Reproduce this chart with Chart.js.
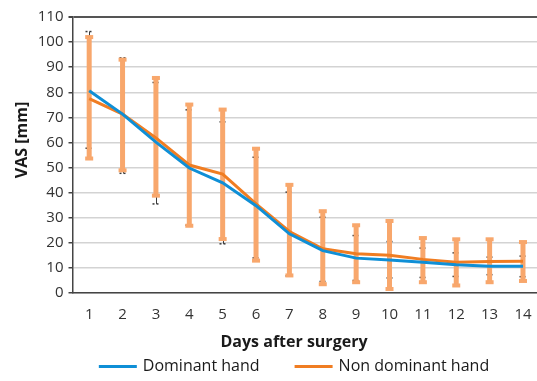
<!DOCTYPE html>
<html>
<head>
<meta charset="utf-8">
<script src="https://cdn.jsdelivr.net/npm/chart.js@4"></script>
<style>
  html, body { margin: 0; padding: 0; background: #fff; }
  #wrap { width: 537px; height: 381px; }
</style>
</head>
<body>
<div id="wrap"><canvas id="vasChart" width="537" height="381"></canvas></div>
<script>
const days = [1, 2, 3, 4, 5, 6, 7, 8, 9, 10, 11, 12, 13, 14];
const yTicks = [0, 10, 20, 30, 40, 50, 60, 70, 80, 90, 100, 110];

const dominant = [80.6, 71.3, 60.1, 49.8, 43.9, 34.8, 23.6, 16.9, 13.9, 13.2, 12.3, 11.3, 10.7, 10.7];
const dominantLow = [57.7, 47.7, 35.5, 27.0, 19.6, 14.0, 6.8, 4.6, 5.0, 6.0, 6.2, 6.6, 7.3, 6.5];
const dominantHigh = [104.2, 93.7, 83.9, 73.0, 68.2, 54.1, 40.2, 30.2, 22.9, 20.5, 17.9, 16.0, 14.3, 14.7];

const nonDominant = [77.5, 71.3, 61.8, 51.0, 47.4, 35.5, 24.5, 17.6, 15.6, 15.0, 13.4, 12.3, 12.6, 12.7];
const nonDominantLow = [53.4, 48.7, 38.6, 26.6, 21.3, 12.7, 6.8, 3.3, 4.1, 1.4, 4.1, 2.8, 4.1, 4.6];
const nonDominantHigh = [102.2, 93.2, 85.9, 75.3, 73.3, 57.7, 43.3, 32.8, 27.2, 28.9, 22.1, 21.6, 21.6, 20.5];

const BLUE = '#0f8fd6';
const ORANGE = '#f07d22';
const LIGHT_ORANGE = '#f8a76c';
const FONT = '"Open Sans", "DejaVu Sans", sans-serif';

// error bars, drawn through the chart scales
const errorBars = {
  id: 'errorBars',
  beforeDatasetsDraw(chart) {
    const { ctx, scales: { x, y } } = chart;
    ctx.save();
    // dominant hand: thin dark bars
    ctx.strokeStyle = '#3a3a3a';
    days.forEach((d, i) => {
      const px = Math.round(x.getPixelForValue(d)) + 0.5;
      const top = y.getPixelForValue(dominantHigh[i]);
      const bot = y.getPixelForValue(dominantLow[i]);
      ctx.setLineDash([]);
      ctx.lineWidth = 1;
      ctx.beginPath();
      ctx.moveTo(px, top);
      ctx.lineTo(px, bot);
      ctx.stroke();
      ctx.setLineDash([2, 2]);
      ctx.lineWidth = 1.5;
      [top, bot].forEach(v => {
        ctx.beginPath();
        ctx.moveTo(px - 4, v);
        ctx.lineTo(px + 4, v);
        ctx.stroke();
      });
    });
    ctx.setLineDash([]);
    // non dominant hand: thick light orange bars
    ctx.fillStyle = LIGHT_ORANGE;
    days.forEach((d, i) => {
      const px = x.getPixelForValue(d);
      const top = y.getPixelForValue(nonDominantHigh[i]);
      const bot = y.getPixelForValue(nonDominantLow[i]);
      ctx.fillRect(px - 2.5, top, 5, bot - top);
      ctx.fillRect(px - 4, top - 1.5, 8, 4);
      ctx.fillRect(px - 4, bot - 2.5, 8, 4);
    });
    ctx.restore();
  }
};

// axis titles and legend
const labelsPlugin = {
  id: 'labelsPlugin',
  afterDraw(chart) {
    const { ctx } = chart;
    ctx.save();
    ctx.fillStyle = '#1a1a1a';
    ctx.textBaseline = 'middle';
    ctx.textAlign = 'center';
    ctx.font = 'bold 16px ' + FONT;
    ctx.fillText('Days after surgery', 294, 342);
    ctx.save();
    ctx.translate(22, 140);
    ctx.rotate(-Math.PI / 2);
    ctx.fillText('VAS [mm]', 0, 0);
    ctx.restore();

    ctx.font = '16px ' + FONT;
    ctx.textAlign = 'left';
    const items = chart.data.datasets.map(ds => ({ text: ds.label, color: ds.borderColor }));
    const widths = items.map(it => 38 + 6 + ctx.measureText(it.text).width);
    const gap = 35;
    let xPos = 294 - (widths.reduce((a, b) => a + b, 0) + gap) / 2;
    items.forEach((it, i) => {
      ctx.fillStyle = it.color;
      ctx.fillRect(xPos, 365, 38, 3);
      ctx.fillStyle = '#1a1a1a';
      ctx.fillText(it.text, xPos + 44, 366);
      xPos += widths[i] + gap;
    });
    ctx.restore();
  }
};

new Chart(document.getElementById('vasChart').getContext('2d'), {
  type: 'line',
  data: {
    datasets: [
      {
        label: 'Dominant hand',
        data: days.map((d, i) => ({ x: d, y: dominant[i] })),
        borderColor: BLUE,
        backgroundColor: BLUE,
        borderWidth: 3,
        pointRadius: 0,
        tension: 0
      },
      {
        label: 'Non dominant hand',
        data: days.map((d, i) => ({ x: d, y: nonDominant[i] })),
        borderColor: ORANGE,
        backgroundColor: ORANGE,
        borderWidth: 3,
        pointRadius: 0,
        tension: 0
      }
    ]
  },
  options: {
    responsive: false,
    animation: false,
    layout: { padding: { top: 17, right: 0, bottom: 57, left: 0 } },
    plugins: {
      legend: { display: false },
      tooltip: { enabled: false }
    },
    scales: {
      x: {
        type: 'linear',
        min: 0.5,
        max: 14.42,
        afterBuildTicks: scale => { scale.ticks = days.map(v => ({ value: v })); },
        grid: { display: true, drawOnChartArea: false, color: 'rgba(0,0,0,0)', drawTicks: true, tickLength: 13 },
        border: { display: true, color: '#444', width: 1.5 },
        ticks: {
          color: '#333',
          font: { family: FONT, size: 15 },
          padding: 0,
          autoSkip: false,
          maxRotation: 0
        }
      },
      y: {
        min: 0,
        max: 110,
        afterBuildTicks: scale => { scale.ticks = yTicks.map(v => ({ value: v })); },
        afterFit: scale => { scale.width = 72.5; },
        grid: {
          color: ctx => ctx.tick && ctx.tick.value === 110 ? '#555' : '#d3d3d3',
          lineWidth: ctx => ctx.tick && ctx.tick.value === 110 ? 2 : 1.5,
          tickColor: '#444',
          tickLength: 4
        },
        border: { display: true, color: '#444', width: 1.5 },
        ticks: {
          color: '#333',
          font: { family: FONT, size: 15 },
          padding: 5
        }
      }
    }
  },
  plugins: [errorBars, labelsPlugin]
});
</script>
</body>
</html>
